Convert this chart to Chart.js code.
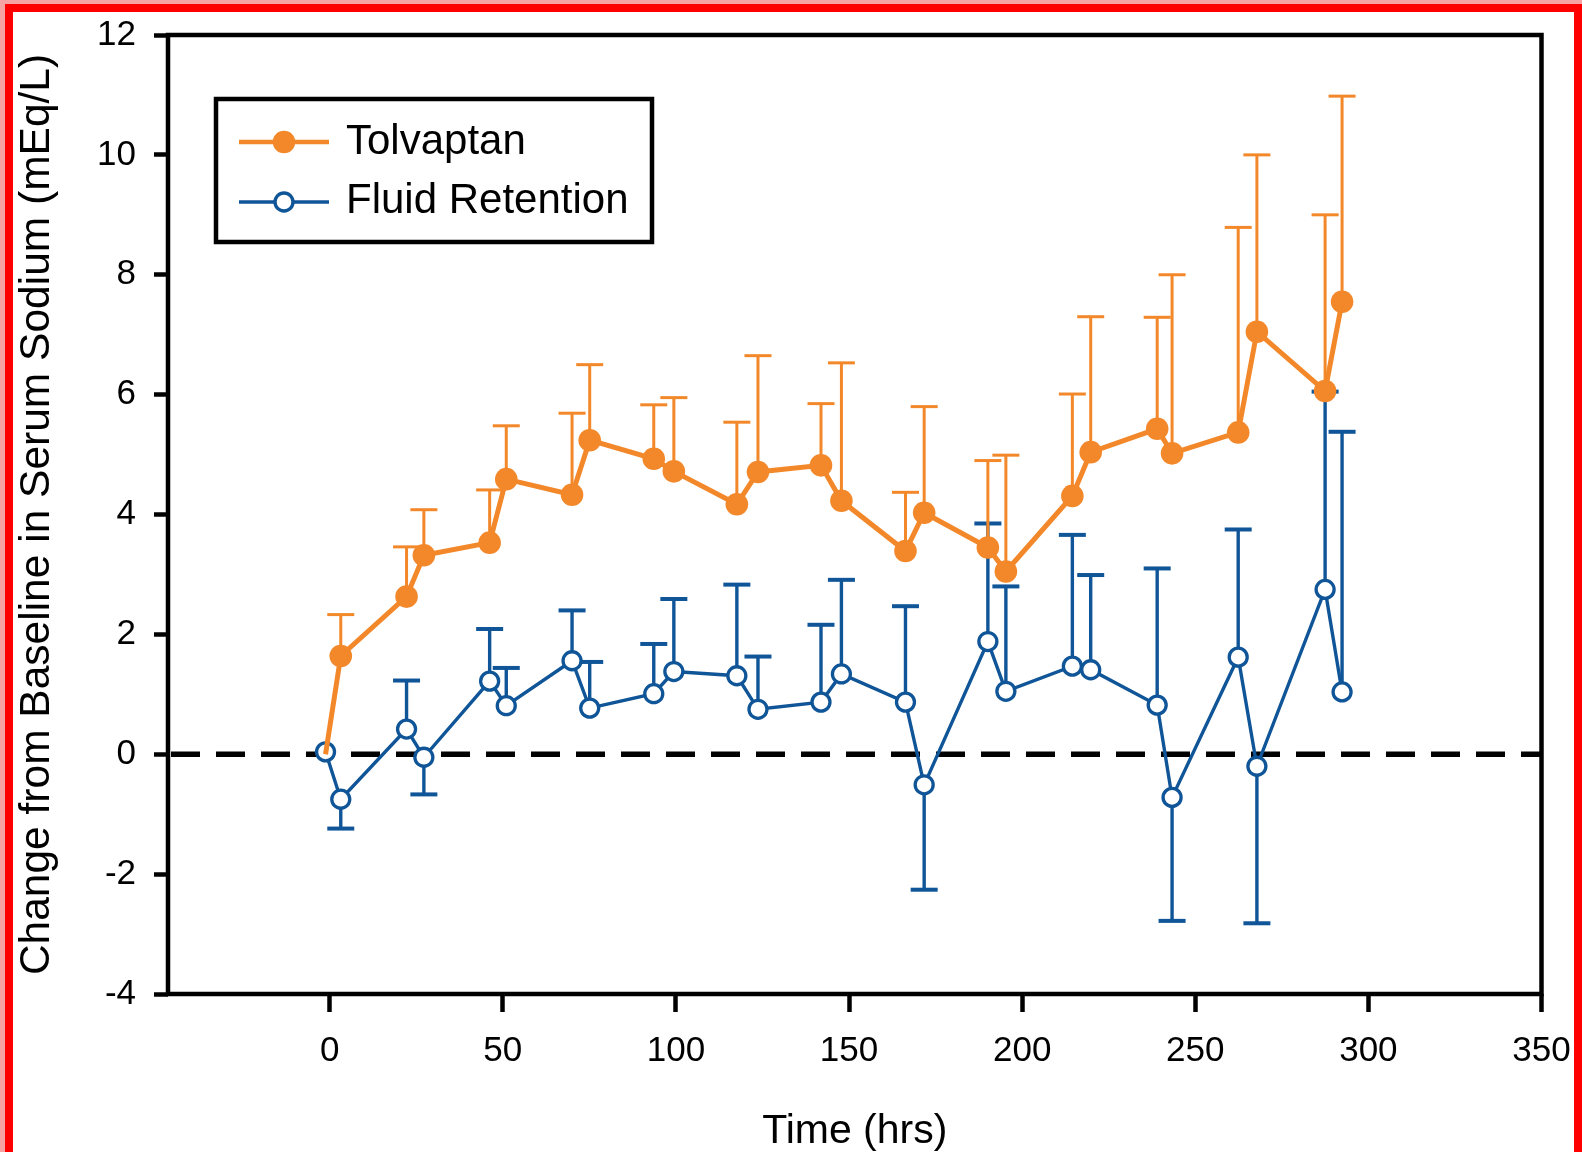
<!DOCTYPE html>
<html>
<head>
<meta charset="utf-8">
<script src="https://cdn.jsdelivr.net/npm/chart.js@4.4.1/dist/chart.umd.min.js"></script>
<style>
  html, body { margin: 0; padding: 0; background: #fff; overflow: hidden; }
  #wrap { position: relative; width: 1582px; height: 1152px; }
  #chart { position: absolute; left: 0; top: 0; }
  .frame-outer {
    position: absolute; left: 0; top: 0; width: 1587px; height: 1170px;
    box-sizing: border-box; border: 5px solid #f5a3a3; border-top-width: 4px; border-bottom: none;
    pointer-events: none;
  }
  .frame-inner { width: 100%; height: 100%; box-sizing: border-box; border: 8px solid #ff0000; border-bottom: none; }
</style>
</head>
<body>
<div id="wrap">
  <canvas id="chart" width="1582" height="1152"></canvas>
  <div class="frame-outer"><div class="frame-inner"></div></div>
</div>
<script>
// ── Data ──
const hours = [-1.2, 3.2, 22.2, 27.2, 46.2, 51.0, 70.0, 75.1, 93.6, 99.4, 117.6, 123.7, 141.9,
  147.8, 166.3, 171.7, 190.1, 195.3, 214.5, 219.8, 239.0, 243.3, 262.4, 267.8, 287.5, 292.4];

const tolvaptan = [0, 1.64, 2.63, 3.32, 3.53, 4.59, 4.33, 5.24, 4.93, 4.72, 4.17, 4.71, 4.82,
  4.23, 3.39, 4.03, 3.45, 3.05, 4.31, 5.04, 5.43, 5.02, 5.37, 7.05, 6.06, 7.55];
const tolvaptanSD = [0, 0.69, 0.83, 0.76, 0.88, 0.89, 1.36, 1.26, 0.90, 1.23, 1.37, 1.94, 1.03,
  2.30, 0.98, 1.77, 1.45, 1.94, 1.70, 2.26, 1.86, 2.98, 3.42, 2.95, 2.94, 3.43];

const fluidRetention = [0.04, -0.75, 0.42, -0.05, 1.22, 0.81, 1.56, 0.77, 1.01, 1.38, 1.31, 0.75, 0.87,
  1.34, 0.87, -0.51, 1.88, 1.05, 1.47, 1.41, 0.82, -0.72, 1.62, -0.20, 2.75, 1.04];
// signed: a negative SD is drawn below the point
const fluidRetentionSD = [0, -0.49, 0.81, -0.62, 0.87, 0.63, 0.84, 0.77, 0.83, 1.21, 1.52, 0.88, 1.29,
  1.57, 1.60, -1.75, 1.97, 1.75, 2.19, 1.58, 2.28, -2.06, 2.13, -2.62, 3.30, 4.34];

const xTicks = [0, 50, 100, 150, 200, 250, 300, 350];
const yTicks = [-4, -2, 0, 2, 4, 6, 8, 10, 12];

const ORANGE = '#f3882a';
const BLUE = '#0f5597';
const FONT = "'Liberation Sans', Arial, Helvetica, sans-serif";

// ── Plugins ──
const errorBars = {
  id: 'errorBars',
  beforeDatasetDraw(chart, args) {
    const ds = chart.data.datasets[args.index];
    if (!ds.errors) return;
    const xs = chart.scales.x;
    const ys = chart.scales.y;
    const ctx = chart.ctx;
    ctx.save();
    ctx.strokeStyle = ds.borderColor;
    ctx.lineWidth = ds.errorWidth;
    ds.data.forEach((p, i) => {
      const e = ds.errors[i];
      if (!e) return;
      const px = xs.getPixelForValue(p.x);
      const y0 = ys.getPixelForValue(p.y);
      const y1 = ys.getPixelForValue(p.y + e);
      ctx.beginPath();
      ctx.moveTo(px, y0);
      ctx.lineTo(px, y1);
      ctx.stroke();
      // cap
      ctx.lineWidth = ds.capWidth;
      ctx.beginPath();
      ctx.moveTo(px - 13.5, y1);
      ctx.lineTo(px + 13.5, y1);
      ctx.stroke();
      ctx.lineWidth = ds.errorWidth;
    });
    ctx.restore();
  }
};

const frameAndZero = {
  id: 'frameAndZero',
  beforeDatasetsDraw(chart) {
    const a = chart.chartArea;
    const ctx = chart.ctx;
    const y0 = chart.scales.y.getPixelForValue(0);
    ctx.save();
    ctx.strokeStyle = '#000';
    ctx.lineWidth = 5.5;
    ctx.setLineDash([29, 16]);
    ctx.beginPath();
    ctx.moveTo(a.left + 3, y0);
    ctx.lineTo(a.right, y0);
    ctx.stroke();
    ctx.setLineDash([]);
    ctx.lineWidth = 4.5;
    ctx.strokeRect(a.left, a.top, a.right - a.left, a.bottom - a.top);
    ctx.restore();
  }
};

const boxLegend = {
  id: 'boxLegend',
  afterDraw(chart) {
    const ctx = chart.ctx;
    ctx.save();
    ctx.strokeStyle = '#000';
    ctx.lineWidth = 4.5;
    ctx.strokeRect(216, 99, 436, 143);

    // Tolvaptan sample
    ctx.strokeStyle = ORANGE;
    ctx.lineWidth = 4.5;
    ctx.beginPath();
    ctx.moveTo(239, 142);
    ctx.lineTo(329, 142);
    ctx.stroke();
    ctx.fillStyle = ORANGE;
    ctx.beginPath();
    ctx.arc(284, 142, 11.3, 0, Math.PI * 2);
    ctx.fill();

    // Fluid Retention sample
    ctx.strokeStyle = BLUE;
    ctx.lineWidth = 3.4;
    ctx.beginPath();
    ctx.moveTo(239, 202);
    ctx.lineTo(329, 202);
    ctx.stroke();
    ctx.fillStyle = '#fff';
    ctx.beginPath();
    ctx.arc(284, 202, 9, 0, Math.PI * 2);
    ctx.fill();
    ctx.stroke();

    ctx.fillStyle = '#000';
    ctx.font = '42px ' + FONT;
    ctx.textBaseline = 'alphabetic';
    ctx.fillText('Tolvaptan', 346, 154);
    ctx.fillText('Fluid Retention', 346, 213);
    ctx.restore();
  }
};

// ── Chart ──
const ctx = document.getElementById('chart').getContext('2d');
new Chart(ctx, {
  type: 'scatter',
  data: {
    datasets: [
      {
        label: 'Tolvaptan',
        data: hours.map((h, i) => ({ x: h, y: tolvaptan[i] })),
        errors: tolvaptanSD,
        errorWidth: 3,
        capWidth: 3,
        showLine: true,
        tension: 0,
        borderColor: ORANGE,
        borderWidth: 5,
        pointBackgroundColor: ORANGE,
        pointBorderWidth: 0,
        pointRadius: c => (c.dataIndex === 0 ? 0 : 11.3),
      },
      {
        label: 'Fluid Retention',
        data: hours.map((h, i) => ({ x: h, y: fluidRetention[i] })),
        errors: fluidRetentionSD,
        errorWidth: 3.4,
        capWidth: 4,
        showLine: true,
        tension: 0,
        borderColor: BLUE,
        borderWidth: 3.4,
        pointBackgroundColor: '#fff',
        pointBorderColor: BLUE,
        pointBorderWidth: 3.3,
        pointRadius: 9,
      }
    ]
  },
  options: {
    responsive: false,
    animation: false,
    devicePixelRatio: 1,
    layout: { padding: { left: 0, top: 35, right: 40.5, bottom: 0 } },
    plugins: { legend: { display: false }, tooltip: { enabled: false } },
    scales: {
      x: {
        type: 'linear',
        min: -46.7,
        max: 350,
        afterBuildTicks: s => { s.ticks = xTicks.map(v => ({ value: v })); },
        afterFit: s => { s.height = 158; s.paddingLeft = 0; s.paddingRight = 0; },
        border: { display: false },
        grid: { drawOnChartArea: false, drawTicks: true, tickLength: 18, tickWidth: 4.5, tickColor: '#000' },
        ticks: { color: '#000', font: { family: FONT, size: 35 }, padding: 18, maxRotation: 0, autoSkip: false },
        title: { display: true, text: 'Time (hrs)', color: '#000', font: { family: FONT, size: 41 }, padding: { top: 0, bottom: -4 } }
      },
      y: {
        type: 'linear',
        min: -4,
        max: 12,
        afterBuildTicks: s => { s.ticks = yTicks.map(v => ({ value: v })); },
        afterFit: s => { s.width = 168; s.paddingTop = 0; s.paddingBottom = 0; },
        border: { display: false },
        grid: { drawOnChartArea: false, drawTicks: true, tickLength: 14, tickWidth: 4.5, tickColor: '#000' },
        ticks: { color: '#000', font: { family: FONT, size: 35 }, padding: 18, autoSkip: false },
        title: { display: true, text: 'Change from Baseline in Serum Sodium (mEq/L)', color: '#000', font: { family: FONT, size: 42.5 }, padding: { top: 12, bottom: 0 } }
      }
    }
  },
  plugins: [frameAndZero, errorBars, boxLegend]
});
</script>
</body>
</html>
